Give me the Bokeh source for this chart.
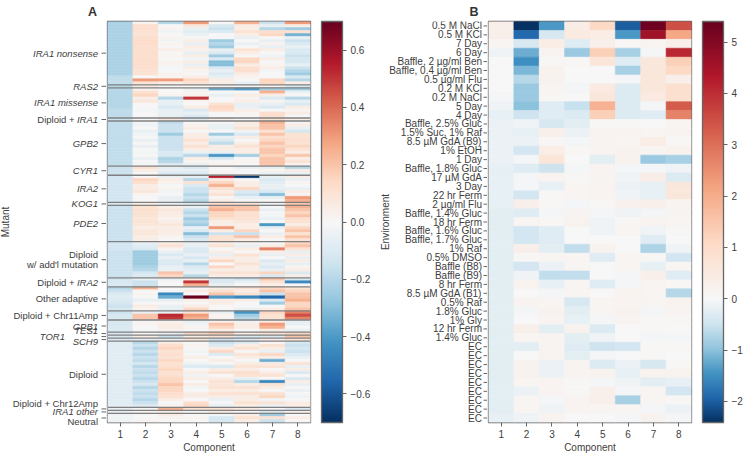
import numpy as np
from bokeh.plotting import figure
from bokeh.models import (ColumnDataSource, LinearColorMapper, ColorBar, FixedTicker,
                          Span, Range1d)
from bokeh.layouts import row
from bokeh.transform import transform
from bokeh.core.properties import value
from bokeh.embed import file_html
from bokeh.resources import INLINE

components = [1, 2, 3, 4, 5, 6, 7, 8]

# ---------------- Panel A: mutant weights (rows grouped by mutation type) ----------------
mutant_groups = ["IRA1 nonsense", "RAS2", "IRA1 missense", "Diploid + IRA1", "GPB2", "CYR1",
                 "IRA2", "KOG1", "PDE2", "Diploid w/ add'l mutation", "Diploid + IRA2",
                 "Other adaptive", "Diploid + Chr11Amp", "GPB1", "TES1", "TOR1", "SCH9",
                 "Diploid", "Diploid + Chr12Amp", "IRA1 other", "Neutral"]

ira1_nonsense = [
    [-0.22, 0.02, -0.20, 0.30, 0.00, 0.25, -0.15, 0.30],
    [-0.22, 0.12, 0.00, 0.08, -0.12, 0.05, -0.05, 0.05],
    [-0.22, 0.12, 0.02, -0.05, -0.15, 0.05, -0.20, -0.25],
    [-0.22, 0.10, -0.03, -0.08, -0.10, 0.10, 0.12, 0.10],
    [-0.22, 0.10, 0.00, -0.05, 0.00, 0.05, 0.15, -0.33],
    [-0.22, 0.12, 0.02, 0.00, 0.00, -0.05, 0.00, -0.05],
    [-0.22, 0.13, -0.02, 0.05, -0.25, 0.00, -0.05, -0.15],
    [-0.22, 0.13, 0.02, -0.05, -0.20, -0.05, 0.03, -0.10],
    [-0.22, 0.12, 0.00, 0.05, -0.25, 0.00, -0.05, -0.05],
    [-0.22, 0.12, 0.05, 0.03, -0.05, 0.10, 0.05, -0.10],
    [-0.22, 0.13, 0.00, -0.05, -0.10, 0.05, 0.00, -0.10],
    [-0.22, 0.12, 0.02, 0.05, -0.25, 0.00, -0.03, -0.15],
    [-0.22, 0.13, 0.00, -0.03, -0.10, 0.15, 0.05, -0.12],
    [-0.22, 0.12, 0.03, 0.05, -0.30, 0.15, 0.00, -0.12],
    [-0.22, 0.12, 0.02, -0.05, -0.30, 0.05, 0.02, -0.05],
    [-0.22, 0.12, -0.02, 0.05, -0.10, 0.12, 0.05, -0.15],
    [-0.22, 0.10, 0.00, 0.02, -0.05, 0.12, -0.02, -0.20],
    [-0.22, 0.10, 0.03, 0.00, -0.10, 0.05, 0.00, -0.25],
    [-0.18, 0.00, 0.02, 0.05, -0.05, 0.03, 0.00, -0.10],
    [-0.17, 0.30, 0.30, 0.15, 0.05, 0.00, 0.15, -0.20],
    [-0.17, 0.10, 0.05, 0.10, 0.05, -0.05, 0.15, 0.05],
]
ras2 = [
    [-0.20, 0.05, 0.00, 0.00, 0.02, 0.00, 0.03, -0.10],
]
ira1_missense = [
    [-0.20, 0.02, 0.00, -0.05, -0.35, -0.40, -0.25, -0.25],
    [-0.20, 0.10, 0.00, 0.02, 0.00, 0.00, 0.25, -0.05],
    [-0.20, 0.15, 0.02, 0.03, -0.05, 0.05, 0.05, 0.00],
    [-0.20, 0.05, -0.20, 0.50, 0.00, 0.02, -0.10, -0.20],
    [-0.20, 0.08, -0.05, 0.02, 0.00, 0.05, 0.02, -0.05],
    [-0.20, 0.00, -0.05, 0.00, 0.10, -0.05, -0.05, -0.10],
    [-0.20, 0.00, -0.10, 0.05, 0.15, -0.05, -0.10, 0.05],
    [-0.18, -0.02, -0.05, -0.10, 0.12, 0.05, 0.00, 0.02],
    [-0.18, 0.00, -0.05, -0.05, 0.00, 0.02, 0.12, 0.05],
    [-0.18, 0.00, -0.05, -0.10, 0.00, 0.00, 0.12, 0.00],
]
diploid_ira1 = [
    [-0.15, 0.00, 0.08, -0.10, 0.05, 0.00, 0.10, 0.05],
]
gpb2 = [
    [-0.17, -0.02, -0.18, 0.00, 0.00, 0.05, 0.25, 0.00],
    [-0.17, -0.03, -0.15, 0.03, -0.05, 0.05, 0.20, 0.05],
    [-0.17, 0.00, -0.15, 0.05, -0.05, 0.10, 0.20, -0.05],
    [-0.17, -0.05, -0.15, 0.00, 0.00, -0.03, 0.10, -0.12],
    [-0.17, -0.03, -0.25, 0.05, -0.25, -0.10, 0.20, 0.10],
    [-0.17, 0.00, -0.15, 0.05, -0.05, 0.05, 0.12, 0.10],
    [-0.17, -0.05, -0.15, 0.10, -0.10, 0.00, 0.15, 0.12],
    [-0.17, 0.00, -0.15, 0.05, -0.18, 0.05, 0.20, 0.10],
    [-0.17, -0.05, -0.15, 0.10, 0.05, 0.10, 0.15, 0.15],
    [-0.17, 0.00, -0.15, 0.05, 0.05, 0.05, 0.20, 0.10],
    [-0.17, -0.02, -0.10, -0.05, -0.05, 0.05, 0.20, 0.05],
    [-0.17, 0.00, -0.12, -0.20, -0.42, -0.25, 0.15, 0.20],
    [-0.17, -0.05, -0.22, 0.05, -0.10, 0.00, 0.20, 0.05],
    [-0.17, 0.00, -0.20, 0.02, 0.00, 0.02, 0.20, 0.10],
    [-0.17, -0.02, -0.10, -0.05, 0.02, 0.00, 0.20, 0.02],
]
cyr1 = [
    [-0.15, 0.10, -0.05, -0.10, 0.00, -0.05, -0.05, -0.20],
    [-0.15, 0.05, -0.05, -0.05, 0.00, 0.00, 0.02, 0.05],
    [-0.15, 0.00, -0.10, -0.10, 0.02, 0.00, -0.05, -0.05],
]
ira2 = [
    [-0.13, 0.00, -0.05, -0.05, 0.55, -0.68, -0.05, 0.05],
    [-0.13, 0.15, 0.05, -0.20, 0.05, 0.00, -0.10, -0.05],
    [-0.13, 0.12, 0.03, 0.10, 0.15, 0.05, -0.08, 0.02],
    [-0.13, 0.05, 0.00, -0.10, 0.25, 0.05, -0.05, 0.00],
    [-0.13, 0.05, 0.02, -0.15, 0.10, 0.15, -0.05, -0.05],
    [-0.13, 0.08, -0.02, -0.15, 0.05, -0.10, -0.10, 0.05],
    [-0.13, 0.02, 0.00, -0.20, 0.10, -0.15, -0.30, 0.02],
    [-0.13, 0.00, -0.05, -0.15, 0.00, -0.05, -0.05, 0.30],
    [-0.13, 0.00, -0.05, -0.20, 0.05, 0.00, 0.00, 0.25],
]
kog1 = [
    [-0.12, 0.05, -0.05, -0.10, 0.12, 0.10, -0.05, 0.20],
]
pde2 = [
    [-0.15, 0.10, 0.05, -0.05, 0.20, 0.20, -0.02, 0.25],
    [-0.15, 0.12, 0.08, -0.15, 0.25, 0.20, -0.05, 0.20],
    [-0.15, 0.10, 0.05, -0.20, 0.15, 0.10, 0.00, 0.15],
    [-0.15, 0.10, 0.05, -0.15, 0.15, 0.12, -0.02, 0.20],
    [-0.15, 0.08, 0.03, -0.25, 0.10, 0.10, -0.05, 0.12],
    [-0.15, 0.10, 0.05, -0.20, 0.05, 0.08, 0.00, 0.10],
    [-0.15, 0.08, 0.08, -0.25, 0.05, 0.05, -0.40, 0.05],
    [-0.15, 0.05, 0.05, -0.05, 0.30, 0.05, -0.05, 0.15],
    [-0.15, 0.08, 0.05, -0.10, 0.05, 0.15, 0.00, 0.20],
    [-0.15, 0.08, 0.05, -0.30, -0.15, -0.15, -0.05, 0.10],
    [-0.15, 0.05, 0.02, -0.15, 0.10, 0.20, 0.05, 0.20],
    [-0.15, 0.05, 0.00, -0.10, 0.10, 0.05, 0.00, 0.10],
]
diploid_addl = [
    [-0.13, -0.05, 0.05, -0.05, 0.05, 0.02, 0.00, 0.15],
    [-0.13, -0.08, 0.10, -0.05, 0.10, -0.05, 0.05, 0.20],
    [-0.13, -0.10, 0.02, -0.10, 0.00, 0.05, 0.35, 0.10],
    [-0.15, -0.25, -0.05, -0.10, 0.05, 0.00, 0.05, -0.05],
    [-0.15, -0.25, -0.10, -0.05, -0.05, 0.10, -0.05, 0.05],
    [-0.15, -0.25, -0.05, -0.12, 0.05, 0.05, 0.00, -0.05],
    [-0.15, -0.25, -0.10, -0.05, 0.15, 0.05, -0.10, 0.05],
    [-0.15, -0.25, -0.10, -0.20, 0.00, 0.10, -0.05, -0.05],
    [-0.15, -0.22, -0.05, -0.10, 0.15, 0.05, -0.10, 0.02],
    [-0.15, -0.20, -0.05, -0.08, 0.05, 0.05, -0.05, 0.05],
    [-0.15, -0.12, 0.20, -0.05, 0.10, 0.10, 0.15, -0.10],
    [-0.15, -0.10, 0.15, -0.20, 0.05, 0.05, -0.10, 0.05],
]
diploid_ira2 = [
    [-0.13, -0.05, -0.05, 0.05, -0.12, -0.15, 0.20, -0.10],
    [-0.12, -0.15, 0.00, 0.50, -0.10, -0.05, 0.10, -0.45],
    [-0.10, -0.15, 0.00, 0.25, -0.05, 0.00, 0.05, 0.00],
]
other_adaptive = [
    [-0.20, 0.25, 0.00, 0.00, 0.05, 0.10, 0.15, 0.10],
    [-0.15, 0.00, 0.00, 0.05, 0.10, 0.05, 0.20, 0.15],
    [-0.10, 0.02, -0.45, 0.00, 0.20, 0.10, -0.15, 0.20],
    [-0.08, 0.00, -0.35, 0.70, -0.40, -0.45, -0.55, 0.20],
    [-0.10, -0.05, -0.05, 0.05, 0.05, 0.05, -0.10, 0.25],
    [-0.12, 0.00, 0.00, 0.00, 0.05, 0.00, -0.25, 0.15],
    [-0.15, 0.05, -0.05, 0.05, 0.00, 0.00, 0.00, 0.15],
    [-0.12, 0.02, -0.05, 0.15, 0.00, -0.05, 0.05, 0.20],
]
diploid_chr11 = [
    [-0.15, -0.05, -0.05, 0.10, -0.05, -0.42, 0.15, 0.35],
    [-0.12, 0.20, 0.52, 0.30, 0.02, -0.25, 0.10, 0.45],
    [-0.12, 0.20, 0.50, 0.25, 0.02, -0.20, 0.10, 0.35],
]
gpb1 = [
    [-0.12, 0.00, 0.02, -0.05, 0.02, -0.03, 0.05, -0.05],
    [-0.12, 0.02, 0.05, -0.03, 0.20, 0.05, 0.30, -0.05],
    [-0.10, 0.00, 0.05, 0.02, 0.15, 0.05, 0.25, 0.00],
    [-0.10, 0.00, 0.03, 0.00, 0.05, 0.00, 0.05, -0.05],
]
tes1 = [
    [-0.12, 0.00, -0.05, 0.15, 0.20, 0.05, 0.10, 0.15],
]
tor1 = [
    [-0.10, 0.05, -0.15, 0.05, 0.10, -0.10, -0.10, 0.20],
]
sch9 = [
    [-0.10, -0.05, -0.05, 0.10, -0.15, -0.10, 0.05, 0.10],
]
diploid = [
    [-0.08, -0.20, 0.05, 0.00, -0.15, -0.10, 0.00, -0.12],
    [-0.08, -0.15, 0.12, 0.02, -0.10, 0.05, 0.10, -0.15],
    [-0.08, -0.20, 0.15, 0.00, 0.05, 0.10, 0.05, -0.12],
    [-0.08, -0.15, 0.10, -0.02, 0.15, 0.00, -0.05, -0.15],
    [-0.08, -0.20, 0.12, 0.00, -0.10, 0.10, 0.15, -0.10],
    [-0.08, -0.15, 0.10, 0.05, 0.00, 0.05, 0.05, -0.05],
    [-0.08, -0.18, 0.15, 0.00, 0.05, 0.00, -0.35, 0.00],
    [-0.08, -0.12, 0.10, -0.03, 0.00, 0.05, 0.05, 0.10],
    [-0.08, -0.20, 0.12, -0.10, -0.12, 0.10, 0.10, -0.05],
    [-0.08, -0.15, 0.15, 0.00, 0.05, 0.05, 0.00, 0.05],
    [-0.08, -0.18, 0.10, 0.05, 0.10, 0.12, 0.05, -0.10],
    [-0.08, -0.15, 0.12, -0.03, 0.00, 0.10, 0.10, 0.00],
    [-0.08, -0.20, 0.15, 0.05, 0.05, -0.05, 0.00, -0.10],
    [-0.08, -0.15, 0.15, 0.00, 0.10, -0.20, -0.45, 0.05],
    [-0.08, -0.12, 0.20, 0.05, 0.08, 0.05, 0.10, -0.05],
    [-0.08, -0.20, 0.15, -0.02, 0.10, 0.10, 0.05, 0.00],
    [-0.08, -0.15, 0.15, 0.00, 0.05, 0.05, 0.00, -0.05],
    [-0.08, -0.18, 0.12, 0.05, 0.10, 0.10, 0.10, 0.00],
    [-0.08, -0.15, 0.10, 0.05, 0.05, 0.05, 0.15, -0.03],
    [-0.08, -0.20, 0.05, 0.00, -0.05, 0.05, -0.02, 0.00],
    [-0.08, -0.15, 0.00, 0.12, 0.00, 0.10, 0.10, 0.05],
    [-0.07, -0.10, 0.02, 0.15, -0.05, 0.05, -0.05, 0.05],
]
diploid_chr12 = [
    [-0.05, 0.00, 0.25, 0.10, 0.10, 0.05, 0.00, -0.10],
]
ira1_other = [
    [-0.05, 0.02, 0.05, 0.00, 0.05, 0.00, -0.10, 0.02],
]
neutral = [
    [-0.03, 0.00, 0.05, 0.00, -0.02, 0.05, -0.25, 0.00],
    [-0.03, 0.00, 0.02, 0.02, -0.12, 0.10, 0.10, 0.05],
    [-0.03, 0.02, 0.00, 0.00, -0.12, 0.05, -0.15, 0.00],
]
mutant_rows = [ira1_nonsense, ras2, ira1_missense, diploid_ira1, gpb2, cyr1, ira2, kog1,
               pde2, diploid_addl, diploid_ira2, other_adaptive, diploid_chr11, gpb1, tes1,
               tor1, sch9, diploid, diploid_chr12, ira1_other, neutral]

# ---------------- Panel B: environment weights ----------------
environments = ["0.5 M NaCl", "0.5 M KCl", "7 Day", "6 Day", "Baffle, 2 µg/ml Ben",
                "Baffle, 0.4 µg/ml Ben", "0.5 µg/ml Flu", "0.2 M KCl", "0.2 M NaCl", "5 Day",
                "4 Day", "Baffle, 2.5% Gluc", "1.5% Suc, 1% Raf", "8.5 µM GdA (B9)", "1% EtOH",
                "1 Day", "Baffle, 1.8% Gluc", "17 µM GdA", "3 Day", "22 hr Ferm", "2 µg/ml Flu",
                "Baffle, 1.4% Gluc", "18 hr Ferm", "Baffle, 1.6% Gluc", "Baffle, 1.7% Gluc",
                "1% Raf", "0.5% DMSO", "Baffle (B8)", "Baffle (B9)", "8 hr Ferm",
                "8.5 µM GdA (B1)", "0.5% Raf", "1.8% Gluc", "1% Gly", "12 hr Ferm", "1.4% Gluc",
                "EC", "EC", "EC", "EC", "EC", "EC", "EC", "EC", "EC"]
env_weights = [
    [0.30, -2.40, -1.40, 0.40, 1.10, -2.00, 5.30, 3.50],
    [0.30, -1.90, -0.40, 0.50, 0.40, -1.40, 4.60, 2.10],
    [0.10, -0.40, 0.40, -0.30, 0.30, 0.05, 0.10, 0.30],
    [-0.10, -1.20, 0.15, -0.90, 1.30, -0.80, -0.05, 4.10],
    [0.00, -1.50, 0.05, 0.05, 0.70, -0.30, 0.60, 1.30],
    [0.00, -1.10, 0.20, 0.00, 0.00, -0.80, 0.60, 1.10],
    [0.00, -0.70, 0.20, 0.00, 0.00, -0.05, 0.60, 0.30],
    [0.00, -0.90, 0.10, -0.05, 0.50, -0.35, 0.60, 0.90],
    [-0.05, -0.90, 0.05, 0.00, 0.60, -0.35, 0.50, 0.90],
    [-0.10, -1.00, -0.30, -0.55, 1.90, -0.35, -0.05, 3.30],
    [-0.20, -0.50, -0.30, -0.35, 1.30, -0.35, -0.30, 2.70],
    [-0.15, -0.10, -0.40, -0.25, 0.05, 0.05, 0.00, 0.10],
    [-0.15, -0.20, 0.30, -0.15, 0.15, 0.15, 0.10, 0.15],
    [-0.15, -0.15, 0.05, -0.05, 0.15, 0.10, 0.40, 0.05],
    [-0.15, -0.45, 0.40, 0.05, 0.15, 0.20, 0.10, 0.20],
    [-0.15, -0.05, 0.70, 0.00, -0.25, 0.20, -0.90, -0.80],
    [-0.20, -0.30, -0.50, -0.05, 0.15, -0.05, -0.05, -0.10],
    [-0.20, -0.05, 0.15, 0.05, 0.10, -0.10, 0.35, -0.35],
    [-0.20, -0.05, -0.20, 0.10, 0.15, -0.15, -0.20, 0.60],
    [-0.20, -0.45, 0.05, 0.10, 0.15, -0.10, -0.20, 0.60],
    [-0.20, 0.30, 0.05, -0.05, 0.05, 0.25, 0.30, 0.15],
    [-0.25, -0.30, -0.05, 0.10, -0.05, -0.10, -0.05, 0.10],
    [-0.25, 0.10, 0.05, 0.20, -0.10, 0.05, 0.15, 0.10],
    [-0.25, -0.45, -0.30, 0.00, -0.10, 0.10, -0.10, 0.05],
    [-0.25, -0.45, -0.30, 0.00, 0.00, 0.00, -0.30, 0.00],
    [-0.25, 0.30, -0.25, -0.60, 0.20, 0.00, -0.75, -0.10],
    [-0.25, 0.05, 0.10, 0.10, -0.30, 0.10, 0.05, -0.45],
    [-0.25, -0.45, -0.15, 0.10, 0.00, 0.10, -0.20, 0.10],
    [-0.25, -0.10, -0.60, -0.60, 0.00, -0.05, 0.30, -0.30],
    [-0.25, 0.20, -0.20, 0.10, -0.30, -0.05, 0.10, 0.05],
    [-0.25, 0.00, -0.05, 0.10, 0.00, 0.20, 0.10, -0.70],
    [-0.25, 0.15, 0.10, -0.40, 0.10, 0.15, 0.10, 0.20],
    [-0.25, -0.05, 0.20, -0.25, 0.10, 0.20, -0.05, 0.15],
    [-0.25, 0.00, 0.15, -0.20, -0.05, 0.15, 0.05, 0.05],
    [-0.25, 0.30, -0.25, 0.20, -0.35, 0.00, 0.05, 0.00],
    [-0.25, 0.10, 0.15, -0.25, -0.10, 0.00, -0.05, -0.05],
    [-0.25, -0.25, 0.15, -0.30, -0.50, -0.45, 0.05, 0.05],
    [-0.25, 0.00, 0.15, -0.25, -0.05, 0.00, 0.05, 0.00],
    [-0.25, 0.20, -0.15, 0.15, -0.35, -0.15, -0.40, 0.05],
    [-0.25, 0.20, -0.15, 0.15, 0.20, -0.20, 0.20, 0.20],
    [-0.25, 0.10, 0.15, 0.05, -0.05, -0.10, -0.25, -0.20],
    [-0.25, -0.15, 0.15, 0.05, 0.30, -0.05, 0.10, -0.45],
    [-0.25, 0.10, -0.05, 0.15, 0.30, -0.80, 0.10, 0.05],
    [-0.25, 0.10, -0.10, 0.15, 0.10, 0.10, -0.05, -0.15],
    [-0.20, -0.10, 0.15, 0.00, 0.00, -0.05, 0.20, -0.05],
]

a_ticks = [-0.6, -0.4, -0.2, 0.0, 0.2, 0.4, 0.6]
a_tick_labels = ["−0.6", "−0.4", "−0.2", "0.0", "0.2", "0.4", "0.6"]
b_ticks = [-2, -1, 0, 1, 2, 3, 4, 5]
b_tick_labels = ["−2", "−1", "0", "1", "2", "3", "4", "5"]
a_limits = (-0.7, 0.7)
b_limits = (-2.41, 5.40)

# ---------------- colours ----------------
RDBU = ["#053061", "#2166ac", "#4393c3", "#92c5de", "#d1e5f0", "#f7f7f7",
        "#fddbc7", "#f4a582", "#d6604d", "#b2182b", "#67001f"]


def cmap(t):
    t = min(max(t, 0.0), 1.0) * 10
    i = min(int(t), 9)
    f = t - i
    a = [int(RDBU[i][k:k + 2], 16) for k in (1, 3, 5)]
    b = [int(RDBU[i + 1][k:k + 2], 16) for k in (1, 3, 5)]
    return "#%02x%02x%02x" % tuple(round(a[j] + (b[j] - a[j]) * f) for j in range(3))


palA = [cmap(i / 255) for i in range(256)]
lo, hi = b_limits
nB = 782
palB = []
for k in range(nB):
    v = lo + (k + 0.5) * (hi - lo) / nB
    t = 0.5 * (v - lo) / (-lo) if v < 0 else 0.5 + 0.5 * v / hi
    palB.append(cmap(t))

FONT = "Liberation Sans"
TXT = "#3d3d3d"
EDGE = "#666666"
TOP, FRAME_H, CANVAS_H = 21, 401, 454
EXTRA = 12   # label column extends a little below the heatmap


def style(p):
    p.grid.visible = False
    p.outline_line_color = EDGE
    p.outline_line_width = 1.3
    ax = p.xaxis[0]
    ax.axis_line_color = None
    ax.major_tick_line_color = EDGE
    ax.major_tick_out = 4
    ax.major_tick_in = 0
    ax.minor_tick_line_color = None
    ax.ticker = FixedTicker(ticks=components)
    ax.major_label_text_font = FONT
    ax.major_label_text_color = TXT
    ax.major_label_text_font_size = "10px"
    ax.major_label_standoff = 3
    ax.axis_label = "Component"
    ax.axis_label_standoff = 1
    ax.axis_label_text_font = FONT
    ax.axis_label_text_font_style = "normal"
    ax.axis_label_text_font_size = "10px"
    ax.axis_label_text_color = TXT


def colorbar(mapper, ticks, labels):
    return ColorBar(color_mapper=mapper, width=21, height=FRAME_H, location=(11, 0),
                    margin=0, padding=0,
                    ticker=FixedTicker(ticks=ticks),
                    major_label_overrides=dict(zip(ticks, labels)),
                    major_tick_out=4, major_tick_in=0, major_tick_line_color=EDGE,
                    minor_tick_line_color=None,
                    bar_line_color=EDGE, bar_line_width=1.3,
                    label_standoff=4, major_label_text_font=FONT,
                    major_label_text_font_size="10px", major_label_text_color=TXT,
                    background_fill_color=None, border_line_color=None)


def heatmap(rows, mapper, border_right):
    n = len(rows)
    xs, ys, vs = [], [], []
    for i, vals in enumerate(rows):
        for j, v in enumerate(vals):
            xs.append(components[j]); ys.append(i); vs.append(v)
    src = ColumnDataSource(dict(x=xs, y=ys, v=vs))
    p = figure(frame_width=203, frame_height=FRAME_H, x_range=Range1d(0.5, 8.5),
               y_range=Range1d(n - 0.5, -0.5), output_backend="svg", toolbar_location=None,
               title=None, y_axis_location=None, min_border_left=1,
               min_border_right=border_right,
               min_border_top=TOP, min_border_bottom=CANVAS_H - TOP - FRAME_H)
    p.rect(x="x", y="y", width=1, height=1, source=src,
           fill_color=transform("v", mapper), line_color=transform("v", mapper), line_width=0.6)
    style(p)
    return p


def label_panel(n, width, title, title_offset):
    # text column left of a heatmap; x = pixels from the heatmap's left edge, y = row units
    k = n / FRAME_H
    p = figure(frame_width=width, frame_height=FRAME_H + EXTRA,
               x_range=Range1d(-width - 1, -1),
               y_range=Range1d(n - 0.5 + EXTRA * k, -0.5),
               output_backend="svg", toolbar_location=None, title=title,
               x_axis_location=None, y_axis_location=None,
               min_border_left=0, min_border_right=0, min_border_top=TOP, min_border_bottom=0)
    p.grid.visible = False
    p.outline_line_color = None
    p.title.align = "right"
    p.title.offset = title_offset
    p.title.standoff = 5
    p.title.text_font = FONT
    p.title.text_font_size = "12.5px"
    p.title.text_font_style = "bold"
    p.title.text_color = "#333333"
    return p


# ---------------- Panel A ----------------
all_rows_a = [vals for g in mutant_rows for vals in g]
NA = len(all_rows_a)
mapA = LinearColorMapper(palette=palA, low=a_limits[0], high=a_limits[1])
pA = heatmap(all_rows_a, mapA, 62)
starts = []
r = 0
for g in mutant_rows:
    starts.append(r)
    r += len(g)
for s in starts[1:]:
    pA.add_layout(Span(location=s - 0.5, dimension="width", line_color="#808080", line_width=1.3))
pA.add_layout(colorbar(mapA, a_ticks, a_tick_labels), "right")
mids = [s + (len(g) - 1) / 2 for s, g in zip(starts, mutant_rows)]

lA = label_panel(NA, 106, "A", 9.5)
lA.segment(x0=-6, y0=mids, x1=-1, y1=mids, line_color=EDGE, line_width=1)

italic_groups = {"IRA1 nonsense", "RAS2", "IRA1 missense", "GPB2", "CYR1", "IRA2", "KOG1",
                 "PDE2", "GPB1", "TES1", "TOR1", "SCH9", "IRA1 other"}
label_shift = {"Diploid + Chr12Amp": (0, -5), "Neutral": (0, 4), "TES1": (0, -3),
               "SCH9": (0, 2), "TOR1": (-33, 0)}
lab = {"normal": dict(t=[], x=[], y=[], dy=[]), "italic": dict(t=[], x=[], y=[], dy=[])}


def put(kind, text, x, y, dy):
    d = lab[kind]
    d["t"].append(text); d["x"].append(x); d["y"].append(y); d["dy"].append(dy)


for name, m in zip(mutant_groups, mids):
    dx, dy = label_shift.get(name, (0, 0))
    x = -9.5 + dx
    if name in italic_groups:
        put("italic", name, x, m, dy)
    elif name.startswith("Diploid + IRA"):
        put("italic", name.split("+ ")[1], x, m, dy)
        put("normal", "Diploid +", x - 23.5, m, dy)
    elif name == "Diploid w/ add'l mutation":
        put("normal", "Diploid", x, m, dy - 5)
        put("normal", "w/ add'l mutation", x, m, dy + 5)
    else:
        put("normal", name, x, m, dy)

for kind, d in lab.items():
    lA.text(x="x", y="y", text="t", y_offset="dy", source=ColumnDataSource(d),
            text_align="right", text_baseline="middle", text_font=value(FONT),
            text_font_size=value("9.5px"), text_font_style=value(kind), text_color=TXT)

lA.text(x=[-102], y=[(NA - 1) / 2], text=["Mutant"], angle=np.pi / 2, text_align="center",
        text_baseline="middle", text_font=value(FONT), text_font_size=value("10px"),
        text_color=TXT)

# ---------------- Panel B ----------------
NB = len(environments)
mapB = LinearColorMapper(palette=palB, low=b_limits[0], high=b_limits[1])
pB = heatmap(env_weights, mapB, 54)
pB.add_layout(colorbar(mapB, b_ticks, b_tick_labels), "right")

lB = label_panel(NB, 114, "B", 9)
env_pos = list(range(NB))
lB.segment(x0=-5, y0=env_pos, x1=-1, y1=env_pos, line_color=EDGE, line_width=1)
lB.text(x=-6.5, y=env_pos, text=environments, text_align="right", text_baseline="middle",
        text_font=value(FONT), text_font_size=value("10px"), text_color=TXT)
lB.text(x=[-103.5], y=[(NB - 1) / 2], text=["Environment"], angle=np.pi / 2,
        text_align="center", text_baseline="middle", text_font=value(FONT),
        text_font_size=value("10px"), text_color=TXT)

layout = row(lA, pA, lB, pB)
open("out.html", "w").write(file_html(layout, INLINE))
